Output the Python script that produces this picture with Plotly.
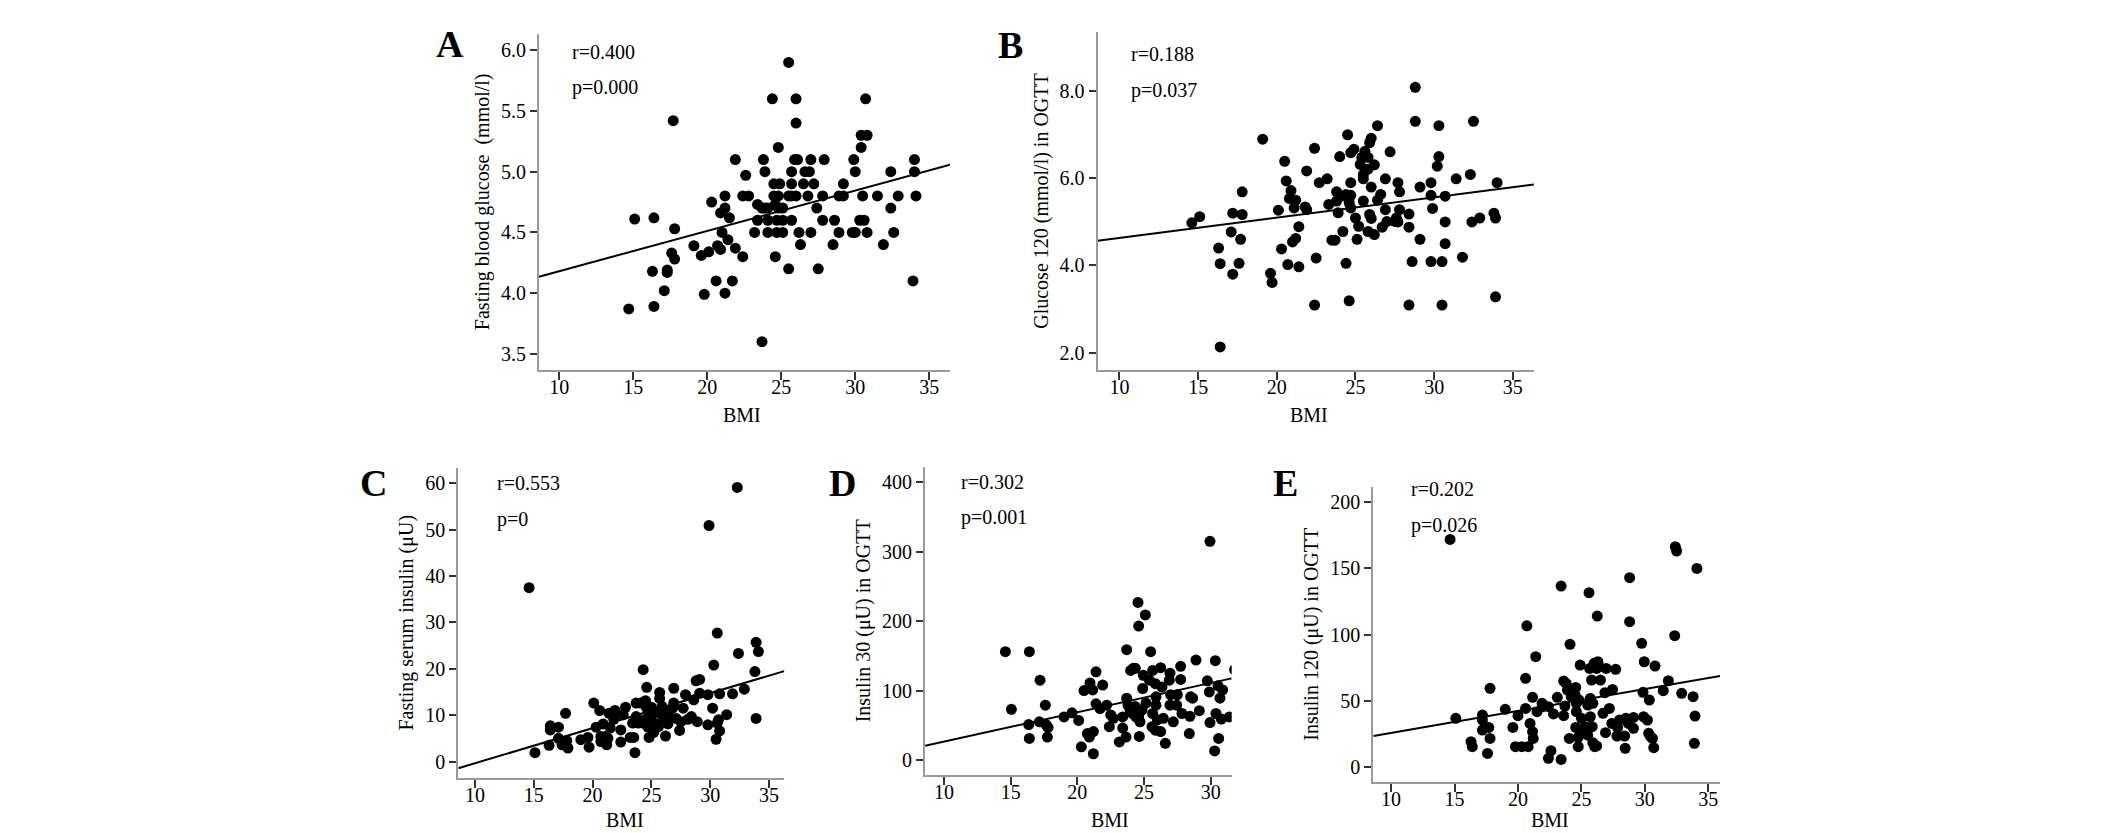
import plotly.graph_objects as go

# A: BMI vs fasting blood glucose
a_bmi = [15.1, 16.4, 16.3, 16.4, 14.7, 17.7, 17.8, 17.6, 17.8, 17.3,
         17.3, 17.1, 19.1, 19.6, 20.1, 19.8, 20.3, 20.6, 20.7, 20.9,
         20.9, 21.0, 21.2, 21.2, 21.2, 21.4, 21.5, 21.7, 21.9, 21.9,
         22.4, 22.6, 22.4, 22.8, 23.2, 23.4, 23.4, 23.8, 23.9, 23.7,
         23.9, 23.7, 24.1, 24.1, 24.1, 24.4, 24.5, 24.5, 24.6, 24.6,
         24.8, 24.9, 24.8, 24.8, 24.7, 24.7, 25.1, 25.1, 25.1, 25.5,
         25.5, 25.5, 25.7, 25.7, 25.7, 25.7, 26.0, 26.0, 25.9, 26.1,
         26.0, 26.2, 26.3, 26.5, 26.6, 26.9, 26.8, 27.0, 27.0, 27.2,
         27.4, 27.5, 27.8, 27.9, 27.8, 28.6, 28.5, 28.9, 28.9, 29.2,
         29.2, 29.9, 30.0, 29.8, 30.0, 30.4, 30.4, 30.8, 30.7, 30.3,
         30.6, 30.5, 30.8, 31.5, 31.9, 32.4, 32.4, 32.6, 32.9, 34.0,
         34.0, 34.1, 33.9]
a_glucose = [4.61, 4.62, 4.18, 3.89, 3.87, 5.42, 4.53, 4.33, 4.28, 4.19,
             4.17, 4.02, 4.39, 4.31, 4.34, 3.99, 4.75, 4.10, 4.39, 4.36,
             4.66, 4.50, 4.80, 4.70, 4.00, 4.44, 4.62, 4.10, 5.10, 4.37,
             4.30, 4.97, 4.80, 4.80, 4.50, 4.60, 4.73, 5.10, 5.00, 4.70,
             4.70, 3.60, 4.70, 4.60, 4.50, 5.60, 4.90, 4.80, 4.73, 4.30,
             5.20, 4.90, 4.80, 4.70, 4.60, 4.50, 4.70, 4.60, 4.50, 5.90,
             4.80, 4.20, 4.60, 5.00, 4.90, 4.80, 5.60, 5.40, 5.10, 5.10,
             4.80, 4.50, 4.40, 4.90, 5.00, 5.00, 4.80, 5.10, 4.50, 4.90,
             4.70, 4.20, 4.80, 5.10, 4.60, 4.60, 4.40, 4.50, 4.80, 4.90,
             4.80, 5.10, 5.00, 4.50, 4.50, 5.20, 5.30, 5.30, 5.60, 4.60,
             4.60, 4.80, 4.50, 4.80, 4.40, 5.00, 4.70, 4.50, 4.80, 5.10,
             5.00, 4.80, 4.10]
a_fit_bmi = [8.63, 36.4]
a_fit_val = [4.135, 5.057]

# B: BMI vs glucose 120 in OGTT
b_bmi = [14.6, 15.1, 16.3, 16.4, 16.4, 17.1, 17.2, 17.2, 17.7, 17.6,
         17.8, 17.8, 19.1, 19.6, 19.7, 20.1, 20.3, 20.5, 20.6, 20.7,
         20.9, 20.8, 21.2, 21.1, 21.0, 21.2, 21.4, 21.4, 21.9, 21.8,
         21.9, 22.4, 22.5, 22.4, 22.7, 23.2, 23.3, 23.5, 23.7, 23.8,
         23.8, 23.9, 24.0, 24.1, 24.2, 24.4, 24.5, 24.4, 24.6, 24.7,
         24.6, 24.7, 24.7, 24.7, 24.9, 25.0, 25.1, 25.2, 25.3, 25.4,
         25.5, 25.5, 25.5, 25.6, 25.8, 25.8, 25.9, 26.0, 26.0, 25.9,
         26.0, 25.8, 26.2, 26.2, 26.4, 26.4, 26.6, 26.7, 26.9, 26.9,
         27.0, 27.2, 27.5, 27.6, 27.7, 27.7, 27.8, 27.8, 28.4, 28.4,
         28.4, 28.6, 28.8, 28.8, 29.1, 29.1, 29.8, 29.8, 29.9, 29.8,
         30.2, 30.3, 30.3, 30.5, 30.5, 30.7, 30.7, 30.7, 31.4, 31.8,
         32.3, 32.4, 32.5, 32.9, 33.8, 33.9, 33.9, 34.0]
b_glucose120 = [4.98, 5.12, 4.40, 4.04, 2.13, 4.77, 5.20, 3.80, 4.60, 4.05,
                5.17, 5.69, 6.90, 3.82, 3.61, 5.27, 4.38, 6.39, 5.94, 4.02,
                5.72, 5.54, 5.50, 5.32, 4.54, 4.62, 4.89, 3.97, 6.17, 5.34,
                5.28, 6.69, 4.17, 3.09, 5.90, 5.99, 5.40, 4.58, 4.58, 5.69,
                5.48, 5.21, 6.50, 5.59, 4.78, 5.63, 7.00, 4.05, 3.19, 5.90,
                5.44, 5.32, 5.61, 6.59, 6.67, 5.09, 4.60, 4.90, 6.32, 6.48,
                6.09, 5.99, 5.48, 6.62, 6.21, 6.48, 6.82, 6.92, 5.80, 5.17,
                5.08, 4.78, 4.71, 6.31, 5.50, 7.21, 5.63, 4.88, 5.28, 5.99,
                5.01, 6.61, 5.01, 5.09, 5.00, 5.90, 5.69, 5.28, 5.18, 4.88,
                3.09, 4.09, 8.09, 7.31, 4.60, 5.80, 5.90, 5.61, 5.31, 4.09,
                6.28, 6.50, 7.21, 4.09, 3.09, 4.50, 5.00, 5.59, 5.99, 4.19,
                6.09, 5.00, 7.31, 5.09, 5.20, 5.09, 3.28, 5.90]
b_fit_bmi = [8.61, 36.34]
b_fit_val = [4.57, 5.86]

# C: BMI vs fasting serum insulin
c_bmi = [14.6, 15.1, 16.3, 16.4, 16.4, 17.1, 17.1, 17.4, 17.5, 17.7,
         17.8, 17.9, 19.0, 19.6, 19.7, 20.1, 20.3, 20.6, 20.7, 20.7,
         20.9, 21.1, 21.2, 21.3, 21.4, 21.5, 21.8, 21.9, 22.4, 22.4,
         22.6, 22.8, 23.2, 23.5, 23.6, 23.4, 23.7, 23.7, 23.9, 24.1,
         24.3, 24.3, 24.5, 24.5, 24.6, 24.6, 24.7, 24.8, 24.9, 25.0,
         25.2, 25.2, 25.4, 25.6, 25.7, 25.7, 25.8, 25.9, 26.0, 26.2,
         26.2, 26.4, 26.5, 26.8, 26.9, 26.9, 27.1, 27.4, 27.5, 27.7,
         27.9, 28.1, 28.4, 28.6, 28.9, 28.8, 29.1, 29.1, 29.8, 29.8,
         29.9, 30.2, 30.3, 30.5, 30.6, 30.6, 30.7, 30.8, 30.8, 31.4,
         31.9, 32.3, 32.4, 32.9, 33.8, 33.9, 33.9, 34.1]
c_insulin = [37.5, 1.9, 3.5, 7.7, 6.8, 7.4, 5.0, 3.6, 4.3, 10.4,
             4.5, 2.9, 4.7, 5.2, 3.1, 12.6, 7.4, 11.0, 5.4, 4.3,
             8.1, 5.4, 3.6, 5.0, 10.4, 7.2, 9.1, 11.0, 6.8, 4.2,
             10.1, 11.7, 5.2, 5.2, 1.9, 8.3, 12.6, 9.7, 8.3, 12.6,
             8.3, 19.8, 9.1, 13.1, 16.0, 11.5, 7.4, 5.2, 9.7, 11.7,
             8.4, 6.3, 10.6, 7.5, 13.6, 14.9, 10.4, 11.9, 9.0, 5.5,
             10.8, 8.1, 9.7, 11.5, 12.6, 15.8, 9.3, 6.7, 8.6, 11.5,
             14.4, 9.1, 9.7, 13.3, 8.6, 17.4, 17.7, 14.7, 7.9, 14.4,
             50.9, 11.5, 20.8, 4.8, 27.7, 8.3, 9.0, 6.6, 14.6, 10.1,
             14.6, 59.1, 23.3, 15.6, 19.4, 25.7, 9.3, 23.7]
c_fit_bmi = [8.58, 36.3]
c_fit_val = [-1.44, 19.5]

# D: BMI vs insulin 30 in OGTT
d_bmi = [14.6, 15.05, 16.4, 16.35, 16.4, 17.2, 17.15, 17.6, 17.8, 17.75,
         17.65, 19.0, 19.6, 20.1, 20.3, 20.5, 20.95, 20.75, 20.9, 21.15,
         21.2, 21.2, 21.4, 21.4, 21.7, 21.9, 22.2, 22.4, 22.5, 22.7,
         23.15, 23.4, 23.4, 23.65, 23.7, 23.7, 23.8, 23.95, 24.0, 24.15,
         24.2, 24.35, 24.35, 24.4, 24.55, 24.6, 24.6, 24.65, 24.7, 24.85,
         24.9, 24.95, 25.1, 25.15, 25.4, 25.5, 25.6, 25.65, 25.65, 25.85,
         25.85, 25.9, 25.9, 26.0, 26.25, 26.25, 26.35, 26.45, 26.6, 26.9,
         26.95, 26.95, 27.0, 27.2, 27.45, 27.5, 27.75, 27.75, 27.85, 28.4,
         28.45, 28.5, 28.65, 28.9, 29.15, 29.75, 29.95, 29.9, 29.95, 30.3,
         30.35, 30.4, 30.55, 30.6, 30.7, 30.9, 30.8, 31.4, 31.8]
d_insulin30 = [156, 73, 156, 51, 31, 115, 55, 79, 47, 33,
               51, 62, 68, 57, 19, 100, 111, 38, 33, 101,
               9, 41, 127, 81, 74, 108, 79, 48, 65, 60,
               26, 62, 46, 33, 159, 89, 79, 72, 129, 67,
               132, 132, 77, 62, 227, 193, 62, 34, 55, 72,
               103, 122, 209, 82, 115, 156, 48, 129, 67, 43,
               110, 79, 91, 58, 41, 133, 105, 60, 24, 115,
               125, 79, 94, 55, 79, 94, 135, 116, 67, 38,
               63, 91, 89, 144, 71, 114, 315, 98, 54, 13,
               143, 67, 107, 31, 89, 101, 59, 62, 130]
d_fit_bmi = [8.58, 31.58]
d_fit_val = [20.6, 117.6]

# E: BMI vs insulin 120 in OGTT
e_bmi = [14.65, 15.1, 16.3, 16.4, 17.2, 17.2, 17.2, 17.7, 17.8, 17.8,
         17.6, 19.0, 19.6, 19.8, 20.3, 20.8, 20.0, 20.6, 20.6, 20.7,
         20.95, 21.15, 21.15, 21.2, 21.4, 21.5, 21.9, 21.95, 22.4, 22.4,
         22.6, 22.8, 23.1, 23.4, 23.4, 23.6, 23.7, 23.6, 23.8, 23.9,
         24.1, 24.05, 24.2, 24.3, 24.5, 24.55, 24.6, 24.6, 24.55, 24.75,
         24.75, 24.8, 24.9, 25.0, 25.0, 25.3, 25.5, 25.5, 25.6, 25.65,
         25.7, 25.8, 25.7, 25.85, 25.9, 26.0, 25.9, 26.05, 26.2, 26.2,
         26.25, 26.3, 26.4, 26.5, 26.7, 26.85, 26.9, 26.95, 27.2, 27.45,
         27.4, 27.7, 27.8, 27.85, 28.0, 28.4, 28.45, 28.5, 28.7, 28.8,
         28.8, 29.1, 29.1, 29.75, 29.85, 29.9, 29.95, 30.2, 30.3, 30.35,
         30.45, 30.6, 30.7, 30.8, 31.45, 31.85, 32.35, 32.4, 32.5, 32.9,
         33.8, 33.95, 33.9, 34.1]
e_insulin120 = [171.6, 36.9, 19.3, 15.6, 39.4, 28.1, 35.6, 30.1, 59.5, 21.8,
                10.5, 43.7, 30.1, 15.6, 15.6, 15.6, 38.9, 67.0, 44.4, 106.6,
                33.1, 52.7, 26.9, 21.8, 83.3, 41.9, 48.2, 45.7, 45.7, 6.8,
                12.5, 40.2, 52.7, 136.5, 6.0, 38.9, 46.2, 65.0, 63.2, 58.2,
                92.6, 21.8, 53.2, 58.2, 54.5, 60.2, 48.2, 41.9, 30.1, 15.6,
                22.6, 50.7, 77.0, 36.9, 28.1, 30.6, 24.3, 46.9, 131.5, 74.5,
                51.9, 65.7, 38.1, 30.6, 48.2, 78.3, 18.6, 15.6, 16.1, 74.5,
                113.9, 79.5, 75.8, 65.7, 40.7, 56.2, 26.1, 74.5, 44.4, 58.7,
                33.1, 73.8, 23.6, 30.1, 35.6, 23.6, 14.3, 36.9, 33.1, 142.8,
                109.7, 29.4, 37.6, 93.4, 56.5, 38.1, 79.5, 35.6, 25.6, 50.7,
                23.1, 21.8, 14.8, 76.3, 57.7, 65.2, 99.1, 166.1, 162.9, 55.7,
                53.2, 38.6, 18.1, 149.8]
e_fit_bmi = [8.61, 35.92]
e_fit_val = [23.6, 68.8]

letters = ["A", "B", "C", "D", "E"]
y_titles = ["Fasting blood glucose  (mmol/l)", "Glucose 120 (mmol/l) in OGTT",
            "Fasting serum insulin (\u03bcU)", "Insulin 30 (\u03bcU) in OGTT",
            "Insulin 120 (\u03bcU) in OGTT"]
x_title = "BMI"
r_labels = ["r=0.400", "r=0.188", "r=0.553", "r=0.302", "r=0.202"]
p_labels = ["p=0.000", "p=0.037", "p=0", "p=0.001", "p=0.026"]

FONT = "Liberation Serif, Times New Roman, serif"
W, H = 2126, 833


def fx(px):
    return px / W


def fy(py):
    return 1 - py / H


# page-pixel boxes of each plot area, axis ranges, ticks, and label spots
# (bmi = centre x and bottom y of the x-axis title)
panels = [
    dict(x=a_bmi, y=a_glucose, fx=a_fit_bmi, fy=a_fit_val,
         px=(538.9, 950), py=(33.6, 370), xr=[8.63, 36.4], yr=[3.367, 6.137],
         yt=[3.5, 4.0, 4.5, 5.0, 5.5, 6.0], yfmt=".1f", xt=[10, 15, 20, 25, 30, 35],
         lab=(449.8, 43.7), bmi=(742, 427), rx=0.075, ry=(0.946, 0.839)),
    dict(x=b_bmi, y=b_glucose120, fx=b_fit_bmi, fy=b_fit_val,
         px=(1097.6, 1533.9), py=(32, 370), xr=[8.61, 36.34], yr=[1.6, 9.36],
         yt=[2, 4, 6, 8], yfmt=".1f", xt=[10, 15, 20, 25, 30, 35],
         lab=(1010, 45), bmi=(1309, 427), rx=0.073, ry=(0.934, 0.827)),
    dict(x=c_bmi, y=c_insulin, fx=c_fit_bmi, fy=c_fit_val,
         px=(458.3, 784.3), py=(468, 777.5), xr=[8.58, 36.3], yr=[-3.45, 63.3],
         yt=[0, 10, 20, 30, 40, 50, 60], yfmt="d", xt=[10, 15, 20, 25, 30, 35],
         lab=(373.3, 483.3), bmi=(625, 832), rx=0.113, ry=(0.951, 0.832)),
    dict(x=d_bmi, y=d_insulin30, fx=d_fit_bmi, fy=d_fit_val,
         px=(925, 1231.7), py=(466.7, 775), xr=[8.57, 31.58], yr=[-21.6, 422.5],
         yt=[0, 100, 200, 300, 400], yfmt="d", xt=[10, 15, 20, 25, 30],
         lab=(842, 483), bmi=(1110, 832), rx=0.112, ry=(0.949, 0.835)),
    dict(x=e_bmi, y=e_insulin120, fx=e_fit_bmi, fy=e_fit_val,
         px=(1373.3, 1720), py=(486.7, 781.7), xr=[8.6, 35.92], yr=[-10.8, 211.3],
         yt=[0, 50, 100, 150, 200], yfmt="d", xt=[10, 15, 20, 25, 30, 35],
         lab=(1285, 483.3), bmi=(1550, 832), rx=0.103, ry=(0.991, 0.870)),
]

fig = go.Figure()
layout = dict(
    width=W, height=H, autosize=False,
    margin=dict(l=0, r=0, t=0, b=0),
    paper_bgcolor="white", plot_bgcolor="white",
    showlegend=False,
    font=dict(family=FONT, size=20, color="black"),
)
annotations = []

for i, p in enumerate(panels):
    n = "" if i == 0 else str(i + 1)
    xa, ya = "x" + n, "y" + n
    fig.add_trace(go.Scatter(
        x=p["x"], y=p["y"], mode="markers", xaxis=xa, yaxis=ya,
        marker=dict(color="black", size=11, line=dict(width=0)),
    ))
    fig.add_trace(go.Scatter(
        x=p["fx"], y=p["fy"], mode="lines", xaxis=xa, yaxis=ya,
        line=dict(color="black", width=2),
    ))
    axis_common = dict(
        showline=True, linecolor="#9a9a9a", linewidth=2, showgrid=False,
        zeroline=False, ticks="outside", tickwidth=1.5,
        tickcolor="#333333", tickfont=dict(family=FONT, size=20, color="black"),
    )
    layout["xaxis" + n] = dict(
        axis_common, domain=[fx(p["px"][0]), fx(p["px"][1])], ticklen=8,
        ticklabelstandoff=-10,
        range=p["xr"], tickvals=p["xt"], anchor=ya,
    )
    layout["yaxis" + n] = dict(
        axis_common, domain=[fy(p["py"][1]), fy(p["py"][0])], ticklen=7,
        range=p["yr"], tickvals=p["yt"], tickformat=p["yfmt"], anchor=xa,
        title=dict(text=y_titles[i], standoff=6, font=dict(family=FONT, size=20)),
    )
    annotations.append(dict(
        text="<b>%s</b>" % letters[i], xref="paper", yref="paper",
        x=fx(p["lab"][0]), y=fy(p["lab"][1]), xanchor="center", yanchor="middle",
        showarrow=False, font=dict(family=FONT, size=38, color="black"),
    ))
    annotations.append(dict(
        text=x_title, xref="paper", yref="paper", borderpad=0,
        x=fx(p["bmi"][0]), y=fy(p["bmi"][1]), xanchor="center", yanchor="bottom",
        showarrow=False, font=dict(family=FONT, size=20, color="black"),
    ))
    for txt, yy in zip([r_labels[i], p_labels[i]], p["ry"]):
        annotations.append(dict(
            text=txt, xref=xa + " domain", yref=ya + " domain",
            x=p["rx"], y=yy, xanchor="left", yanchor="middle",
            showarrow=False, font=dict(family=FONT, size=20, color="black"),
        ))

layout["annotations"] = annotations
fig.update_layout(**layout)
# drop the page's default body margin so the figure fills the window exactly
fig.write_html("out.html", config={"displayModeBar": False},
               post_script="document.body.style.margin = '0px';")
